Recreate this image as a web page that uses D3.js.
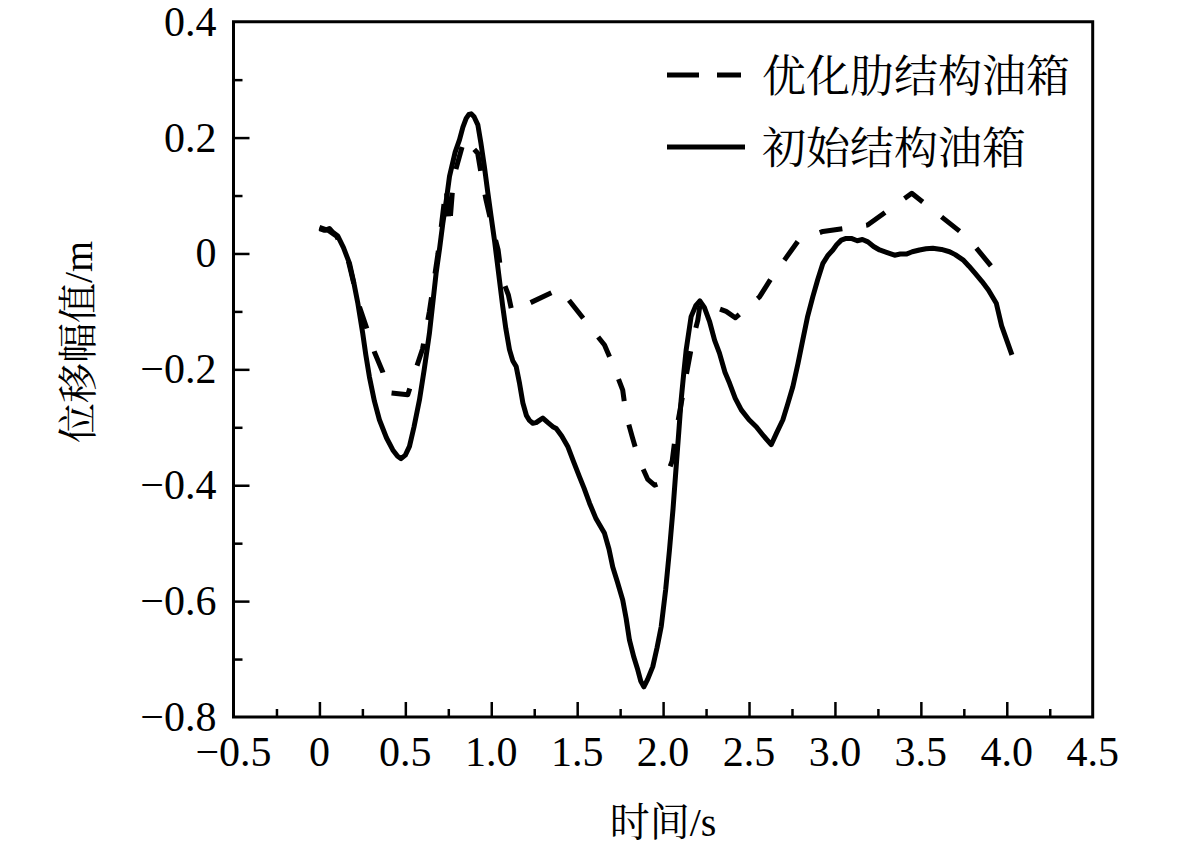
<!DOCTYPE html>
<html>
<head>
<meta charset="utf-8">
<script src="https://cdn.jsdelivr.net/npm/d3@7"></script>
<style>
  body { margin: 0; background: #fff; }
  text { fill: #000; }
</style>
</head>
<body>
<div id="main"></div>
<script>
// time (s) and displacement (m)
var tInit = [0.00, 0.03, 0.058, 0.08, 0.107, 0.14, 0.175, 0.20, 0.223, 0.252, 0.27, 0.291, 0.32, 0.349, 0.39,
  0.427, 0.455, 0.475, 0.50, 0.524, 0.55, 0.582, 0.61, 0.64, 0.66, 0.679, 0.70, 0.718, 0.74, 0.757, 0.79,
  0.815, 0.835, 0.854, 0.87, 0.883, 0.90, 0.922, 0.94, 0.96, 0.98, 0.999, 1.02, 1.038, 1.067, 1.085, 1.106,
  1.125, 1.145, 1.165, 1.184, 1.205, 1.222, 1.242, 1.261, 1.28, 1.30, 1.33, 1.358, 1.378, 1.41, 1.445, 1.48,
  1.513, 1.54, 1.572, 1.61, 1.659, 1.685, 1.707, 1.735, 1.765, 1.785, 1.804, 1.83, 1.853, 1.87, 1.888, 1.91,
  1.94, 1.965, 1.989, 2.015, 2.037, 2.058, 2.076, 2.092, 2.105, 2.12, 2.134, 2.15, 2.163, 2.19, 2.214, 2.24,
  2.27, 2.30, 2.328, 2.36, 2.387, 2.42, 2.455, 2.50, 2.542, 2.585, 2.629, 2.66, 2.697, 2.725, 2.755, 2.785,
  2.813, 2.84, 2.871, 2.90, 2.93, 2.96, 2.988, 3.01, 3.037, 3.065, 3.095, 3.13, 3.16, 3.192, 3.225, 3.26,
  3.30, 3.347, 3.38, 3.415, 3.45, 3.492, 3.53, 3.57, 3.62, 3.667, 3.70, 3.745, 3.78, 3.815, 3.855, 3.893,
  3.939, 3.97, 4.03];
var vInit = [0.043, 0.040, 0.043, 0.036, 0.030, 0.010, -0.017, -0.050, -0.085, -0.138, -0.175, -0.213, -0.255, -0.287, -0.318,
  -0.339, -0.350, -0.354, -0.348, -0.333, -0.300, -0.253, -0.200, -0.138, -0.085, -0.034, 0.010, 0.052, 0.095, 0.133, 0.175,
  0.196, 0.218, 0.233, 0.240, 0.241, 0.236, 0.222, 0.190, 0.150, 0.105, 0.064, 0.020, -0.023, -0.092, -0.130, -0.166,
  -0.185, -0.195, -0.225, -0.258, -0.280, -0.288, -0.293, -0.292, -0.288, -0.284, -0.292, -0.299, -0.302, -0.315, -0.333, -0.360,
  -0.385, -0.405, -0.431, -0.458, -0.483, -0.510, -0.541, -0.568, -0.598, -0.630, -0.667, -0.697, -0.719, -0.738, -0.748, -0.735,
  -0.713, -0.680, -0.644, -0.580, -0.512, -0.440, -0.368, -0.305, -0.253, -0.207, -0.167, -0.135, -0.109, -0.090, -0.082, -0.093,
  -0.117, -0.150, -0.172, -0.205, -0.224, -0.250, -0.270, -0.287, -0.299, -0.315, -0.330, -0.310, -0.287, -0.260, -0.230, -0.190,
  -0.149, -0.110, -0.075, -0.045, -0.017, -0.003, 0.006, 0.015, 0.023, 0.026, 0.026, 0.022, 0.024, 0.020, 0.012, 0.006,
  0.002, -0.003, -0.001, -0.001, 0.003, 0.006, 0.008, 0.009, 0.007, 0.003, -0.002, -0.011, -0.022, -0.034, -0.048, -0.063,
  -0.086, -0.125, -0.175];

var tOpt = [0.00, 0.05, 0.10, 0.17, 0.233, 0.272, 0.32, 0.368, 0.40, 0.514, 0.563, 0.60, 0.64, 0.69, 0.737,
  0.757, 0.78, 0.844, 0.921, 0.947, 0.97, 1.01, 1.04, 1.06, 1.10, 1.12, 1.40, 1.581, 1.659, 1.717, 1.765,
  1.785, 1.82, 1.859, 1.911, 1.95, 2.008, 2.053, 2.072, 2.095, 2.144, 2.173, 2.202, 2.217, 2.367, 2.42, 2.561,
  2.629, 2.707, 2.789, 2.93, 3.19, 3.447, 3.774, 3.97];
var vOpt = [0.045, 0.040, 0.030, -0.015, -0.092, -0.126, -0.170, -0.204, -0.240, -0.244, -0.198, -0.165, -0.100, 0.000, 0.115,
  0.044, 0.130, 0.199, 0.173, 0.127, 0.092, 0.040, 0.006, -0.040, -0.072, -0.100, -0.061, -0.129, -0.158, -0.198, -0.236,
  -0.279, -0.316, -0.356, -0.390, -0.400, -0.394, -0.358, -0.313, -0.276, -0.195, -0.149, -0.115, -0.084, -0.100, -0.111, -0.075,
  -0.043, -0.011, 0.023, 0.038, 0.049, 0.104, 0.027, -0.044];

var seriesNames = ['优化肋结构油箱', '初始结构油箱'];
var xTicks = [-0.5, 0, 0.5, 1.0, 1.5, 2.0, 2.5, 3.0, 3.5, 4.0, 4.5];
var xMinor = [-0.25, 0.25, 0.75, 1.25, 1.75, 2.25, 2.75, 3.25, 3.75, 4.25];
var yTicks = [-0.8, -0.6, -0.4, -0.2, 0, 0.2, 0.4];
var yMinor = [-0.7, -0.5, -0.3, -0.1, 0.1, 0.3];

var W = 1181, H = 851;
var pLeft = 233.5, pRight = 1092.7, pTop = 21.7, pBottom = 717;
var numFont = '"Liberation Serif", "Times New Roman", serif';
var cjkFont = '"Liberation Serif", "Noto Serif CJK SC", "Noto Sans CJK SC", serif';

var x = d3.scaleLinear().domain([-0.5, 4.5]).range([pLeft, pRight]);
var y = d3.scaleLinear().domain([-0.8, 0.4]).range([pBottom, pTop]);

var fmt = function(d) { return d === 0 ? '0' : d3.format('.1f')(d); };

var svg = d3.select('#main')
    .append('svg')
    .attr('width', W).attr('height', H);

// axes, ticks pointing inward
var gx = svg.append('g').attr('transform', 'translate(0,' + pBottom + ')');
gx.append('g').call(d3.axisTop(x).tickValues(xMinor).tickSize(8).tickFormat(''));
gx.append('g').call(d3.axisTop(x).tickValues(xTicks.slice(1, -1)).tickSize(15).tickFormat(''));

var gy = svg.append('g').attr('transform', 'translate(' + pLeft + ',0)');
gy.append('g').call(d3.axisRight(y).tickValues(yMinor).tickSize(9).tickFormat(''));
gy.append('g').call(d3.axisRight(y).tickValues(yTicks.slice(1, -1)).tickSize(16).tickFormat(''));

svg.selectAll('.domain').remove();
svg.selectAll('.tick line').attr('stroke', '#000').attr('stroke-width', 2.5);

// tick labels
svg.append('g').selectAll('text')
    .data(xTicks).enter().append('text')
    .attr('x', function(d) { return x(d); })
    .attr('y', pBottom + 49)
    .attr('text-anchor', 'middle')
    .style('font-family', numFont).style('font-size', '42px')
    .text(fmt);

svg.append('g').selectAll('text')
    .data(yTicks).enter().append('text')
    .attr('x', pLeft - 17)
    .attr('y', function(d) { return y(d) + 14; })
    .attr('text-anchor', 'end')
    .style('font-family', numFont).style('font-size', '42px')
    .text(fmt);

// frame
svg.append('path')
    .attr('d', 'M' + pLeft + ',' + pTop + 'H' + pRight + 'V' + pBottom + 'H' + pLeft + 'Z')
    .attr('fill', 'none').attr('stroke', '#000').attr('stroke-width', 3);

// curves
var line = d3.line()
    .x(function(d) { return x(d[0]); })
    .y(function(d) { return y(d[1]); });

svg.append('path')
    .datum(d3.zip(tOpt, vOpt))
    .attr('d', line)
    .attr('fill', 'none').attr('stroke', '#000')
    .attr('stroke-width', 5).attr('stroke-dasharray', '23,24')
    .attr('stroke-linejoin', 'round');

svg.append('path')
    .datum(d3.zip(tInit, vInit))
    .attr('d', line)
    .attr('fill', 'none').attr('stroke', '#000')
    .attr('stroke-width', 5).attr('stroke-linejoin', 'round');

// legend
var legend = svg.append('g');
legend.append('line')
    .attr('x1', 667).attr('x2', 741).attr('y1', 75).attr('y2', 75)
    .attr('stroke', '#000').attr('stroke-width', 5)
    .attr('stroke-dasharray', '32,18');
legend.append('line')
    .attr('x1', 667).attr('x2', 745).attr('y1', 147).attr('y2', 147)
    .attr('stroke', '#000').attr('stroke-width', 5);
legend.selectAll('text')
    .data(seriesNames).enter().append('text')
    .attr('x', 762)
    .attr('y', function(d, i) { return 92 + i * 72; })
    .style('font-family', cjkFont).style('font-size', '44px')
    .text(function(d) { return d; });

// axis titles
svg.append('text')
    .attr('x', (pLeft + pRight) / 2).attr('y', 836)
    .attr('text-anchor', 'middle')
    .style('font-family', cjkFont).style('font-size', '40px')
    .text('时间/s');

svg.append('text')
    .attr('transform', 'translate(92,342) rotate(-90)')
    .attr('text-anchor', 'middle')
    .style('font-family', cjkFont).style('font-size', '40px')
    .text('位移幅值/m');
</script>
</body>
</html>
